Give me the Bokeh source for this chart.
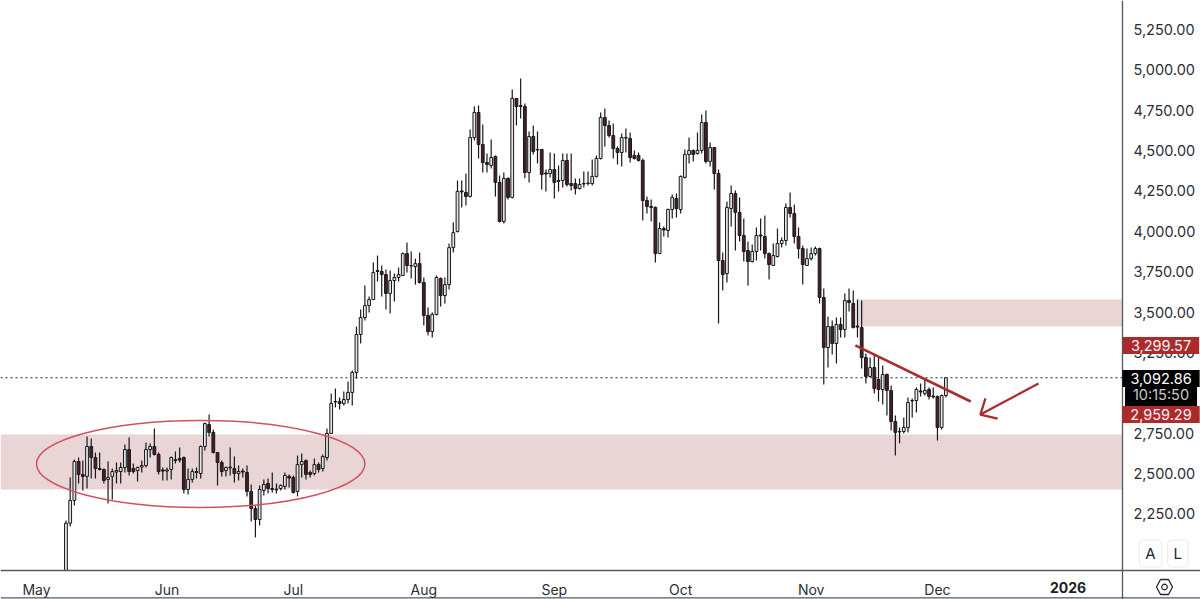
import numpy as np
from bokeh.embed import file_html
from bokeh.models import (ColumnDataSource, FixedTicker, Label, NumeralTickFormatter,
                          PolyAnnotation, Range1d)
from bokeh.plotting import figure
from bokeh.resources import INLINE

# ---- chart data (days counted from 1 May 2025, prices in USD) ----
first_day = 7
opens = [1810,2192,2333,2574,2494,2482,2667,2599,2531,2525,
 2463,2482,2509,2512,2537,2648,2531,2518,2540,2549,
 2648,2667,2618,2522,2515,2525,2580,2593,2599,2401,
 2463,2512,2500,2667,2803,2754,2630,2568,2518,2534,
 2531,2500,2515,2506,2389,2283,2215,2395,2438,2407,
 2403,2407,2420,2482,2475,2389,2555,2580,2506,2500,
 2555,2531,2599,2748,2943,2946,2933,2958,3002,3126,
 3361,3466,3540,3577,3757,3751,3732,3615,3695,3714,
 3726,3862,3785,3782,3800,3683,3479,3379,3485,3708,
 3602,3670,3899,3999,4250,4241,4216,4581,4736,4538,
 4426,4408,4464,4303,4061,4328,4210,4823,4779,4773,
 4364,4587,4504,4507,4361,4358,4383,4315,4315,4439,
 4296,4296,4265,4293,4296,4296,4340,4451,4705,4655,
 4593,4513,4488,4578,4575,4470,4470,4439,4191,4154,
 4148,3862,4017,4005,4135,4203,4135,4334,4476,4501,
 4482,4501,4674,4433,4519,4358,3819,3738,4141,4234,
 4117,3974,3881,3813,3875,3977,3968,3862,3788,3844,
 3924,3943,4148,4110,3968,3893,3788,3831,3862,3893,
 3590,3280,3410,3305,3423,3392,3571,3553,3413,3404,
 3218,3101,3156,3082,3020,3113,3014,2822,2757,2760,
 2785,2952,2952,3011,2995,3020,2980,2977,2785,2983]
closes = [2192,2333,2574,2494,2482,2667,2599,2531,2525,2457,
 2475,2512,2518,2537,2648,2512,2512,2537,2549,2648,
 2667,2618,2512,2515,2522,2599,2586,2583,2401,2463,
 2512,2506,2667,2809,2754,2630,2568,2512,2537,2540,
 2500,2512,2509,2389,2283,2215,2401,2432,2407,2401,
 2398,2426,2488,2472,2382,2555,2574,2494,2494,2555,
 2525,2605,2748,2933,2946,2933,2958,3002,3126,3361,
 3466,3540,3577,3745,3751,3732,3615,3695,3714,3732,
 3862,3788,3788,3800,3683,3479,3379,3485,3714,3602,
 3670,3899,3992,4247,4244,4216,4581,4736,4538,4426,
 4414,4457,4303,4061,4328,4210,4823,4773,4773,4364,
 4587,4494,4507,4352,4355,4383,4303,4309,4439,4290,
 4284,4265,4290,4296,4299,4340,4451,4705,4655,4593,
 4513,4488,4581,4581,4457,4451,4439,4191,4154,4148,
 3862,4017,4008,4135,4210,4141,4340,4476,4501,4476,
 4501,4674,4433,4519,4358,3819,3732,4148,4234,4117,
 3974,3875,3813,3875,3974,3971,3862,3794,3850,3924,
 3943,4148,4110,3968,3893,3794,3831,3862,3893,3590,
 3280,3410,3305,3423,3392,3571,3559,3404,3407,3218,
 3101,3156,3026,3020,3113,3014,2822,2754,2760,2785,
 2940,2949,3020,3005,3014,2977,2974,2785,2983,3093]
highs = [2209,2475,2587,2599,2580,2729,2717,2630,2630,2531,
 2574,2531,2568,2568,2679,2723,2562,2543,2580,2692,
 2686,2779,2630,2537,2537,2605,2636,2661,2605,2531,
 2531,2537,2673,2815,2865,2772,2630,2580,2543,2661,
 2605,2549,2531,2549,2432,2302,2426,2463,2469,2506,
 2438,2432,2506,2494,2488,2611,2624,2586,2518,2593,
 2568,2618,2779,2995,3026,2971,3008,3070,3138,3410,
 3516,3664,3596,3807,3850,3788,3763,3757,3738,3775,
 3868,3930,3875,3831,3868,3714,3528,3497,3726,3714,
 3714,3924,4054,4315,4315,4358,4631,4773,4779,4662,
 4482,4569,4470,4346,4364,4334,4878,4823,4946,4792,
 4618,4655,4618,4507,4383,4488,4482,4407,4482,4482,
 4482,4327,4327,4370,4370,4445,4470,4736,4761,4686,
 4668,4525,4606,4637,4612,4501,4488,4451,4216,4197,
 4154,4054,4030,4141,4228,4234,4346,4507,4581,4507,
 4612,4724,4748,4550,4519,4383,3868,4185,4284,4253,
 4209,4080,3937,3918,4024,4080,4098,3868,3924,4017,
 3962,4172,4241,4166,4024,3912,3893,3899,3906,3899,
 3646,3472,3448,3466,3466,3615,3646,3633,3577,3571,
 3243,3218,3237,3218,3169,3119,3045,2859,2785,2847,
 2971,2965,3033,3057,3088,3033,3033,2983,2989,3093]
lows = [1800,2172,2302,2438,2395,2407,2469,2469,2518,2438,
 2314,2339,2438,2438,2506,2488,2500,2450,2506,2537,
 2599,2611,2494,2457,2457,2463,2562,2568,2376,2370,
 2444,2469,2469,2642,2729,2624,2426,2482,2482,2488,
 2444,2457,2475,2358,2203,2104,2178,2364,2376,2382,
 2376,2395,2401,2413,2376,2358,2475,2463,2475,2488,
 2506,2512,2580,2748,2909,2896,2921,2933,2921,3088,
 3305,3448,3497,3577,3689,3596,3516,3491,3565,3689,
 3726,3745,3708,3670,3677,3417,3355,3342,3479,3534,
 3553,3639,3869,3992,4147,4160,4210,4563,4451,4364,
 4364,4389,4216,4055,4049,4197,4203,4655,4699,4328,
 4303,4476,4420,4259,4247,4334,4203,4247,4272,4278,
 4253,4228,4259,4272,4284,4284,4334,4445,4525,4581,
 4451,4414,4402,4488,4426,4445,4433,4067,4110,4061,
 3807,3862,3968,3962,4080,4086,4110,4327,4420,4433,
 4476,4482,4420,4402,4259,3429,3633,3683,4030,3881,
 3937,3813,3664,3807,3819,3881,3831,3701,3788,3838,
 3899,3912,4086,3924,3831,3670,3788,3819,3850,3553,
 3051,3157,3237,3181,3342,3342,3503,3398,3342,3150,
 3058,3095,2996,2946,2927,2859,2766,2611,2686,2748,
 2754,2847,2878,2977,2983,2958,2965,2704,2773,2971]

y_ticks = [2250,2500,2750,3000,3250,3500,3750,4000,4250,4500,4750,5000,5250]
month_days = [0,31,61,92,123,153,184,214]
month_labels = ["May","Jun","Jul","Aug","Sep","Oct","Nov","Dec"]
year_day = 245
year_label = "2026"

last_price = 3092.86
countdown = "10:15:50"
upper_tag = 3299.57
lower_tag = 2959.29

low_zone = (2401, 2742)
high_zone = (3411, 3578)
high_zone_start = 195
ellipse_center = (39, 2559)
ellipse_size = (78, 539)
trend_days = [194.5, 221.9]
trend_prices = [3293, 2946]
arrow_days = [238.0, 224.2]
arrow_prices = [3057, 2865]
head_days = [225.4, 224.2, 228.3]
head_prices = [2965, 2865, 2840]

# ---- colours ----
INK = "#16181d"
AXIS = "#55585e"
MAROON = "#4b1d26"
UP = "#e4e4e4"
ZONE = "#e9d5d5"
RED = "#a92c2e"
ELLIPSE = "#d3505f"
TAG = "#ab2b2d"

# full-canvas view; the scale sits at SCALE_DAY and the time axis at AXIS_PRICE
X0, X1 = -8.55, 276.48
Y0, Y1 = 1719.4, 5429.6
SCALE_DAY = 257.96
AXIS_PRICE = 1899
FOOT_PRICE = 1730

p = figure(width=1200, height=599, output_backend="svg", toolbar_location=None,
           y_axis_location="right", x_range=Range1d(X0, X1), y_range=Range1d(Y0, Y1),
           min_border=0, background_fill_color="white", border_fill_color="white",
           outline_line_color=None)
p.grid.visible = False

# zones
p.quad(left=X0, right=SCALE_DAY, bottom=low_zone[0], top=low_zone[1], fill_color=ZONE, line_color=None)
p.quad(left=high_zone_start, right=SCALE_DAY, bottom=high_zone[0], top=high_zone[1], fill_color=ZONE, line_color=None)

# last-price line
p.line([X0, SCALE_DAY], [last_price, last_price], line_color="#222222", line_width=1, line_dash=[2, 3])

# candles
days = np.arange(len(opens)) + first_day
o, h, l, c = map(np.array, (opens, highs, lows, closes))
src = ColumnDataSource(dict(x=days, o=o, h=h, l=l, c=c,
                            top=np.maximum(o, c), bottom=np.minimum(o, c),
                            fill=[(UP if cc >= oo else MAROON) for oo, cc in zip(o, c)]))
p.segment(x0="x", x1="x", y0="l", y1="h", source=src, line_color=INK, line_width=1.2)
p.vbar(x="x", top="top", bottom="bottom", width=0.66, source=src,
       fill_color="fill", line_color=INK, line_width=1)

# time-axis strip hides whatever falls below the axis
p.quad(left=X0, right=X1, bottom=Y0, top=AXIS_PRICE, fill_color="white", line_color=None)
p.line([X0, X1], [FOOT_PRICE, FOOT_PRICE], line_color=AXIS, line_width=1.3)

# annotations
p.ellipse(x=ellipse_center[0], y=ellipse_center[1], width=ellipse_size[0], height=ellipse_size[1],
          fill_color=None, line_color=ELLIPSE, line_width=1.5)
p.line(trend_days, trend_prices, line_color=RED, line_width=2.6)
p.line(arrow_days, arrow_prices, line_color=RED, line_width=2.3)
p.line(head_days, head_prices, line_color=RED, line_width=2.3)

# axes
yax = p.yaxis[0]
yax.fixed_location = SCALE_DAY
yax.ticker = FixedTicker(ticks=y_ticks)
yax.formatter = NumeralTickFormatter(format="0,0.00")
yax.major_label_text_font = "Inter"
yax.major_label_text_font_size = "14.5px"
yax.major_label_text_color = "#2b2e35"
yax.major_label_standoff = 11
yax.major_tick_out = 0
yax.major_tick_in = 0
yax.minor_tick_out = 0
yax.minor_tick_in = 0
yax.major_tick_line_color = None
yax.minor_tick_line_color = None
yax.axis_line_color = AXIS
yax.axis_line_width = 1.3

xax = p.xaxis[0]
xax.fixed_location = AXIS_PRICE
xax.ticker = FixedTicker(ticks=month_days + [year_day])
xax.major_label_overrides = {**dict(zip(month_days, month_labels)), year_day: " "}
xax.major_label_text_font = "Inter"
xax.major_label_text_font_size = "14px"
xax.major_label_text_color = "#2b2e35"
xax.major_label_standoff = 10
xax.major_tick_out = 0
xax.major_tick_in = 0
xax.minor_tick_out = 0
xax.minor_tick_in = 0
xax.major_tick_line_color = None
xax.minor_tick_line_color = None
xax.axis_line_color = AXIS
xax.axis_line_width = 1.3

p.add_layout(Label(x=year_day, y=1794, text=year_label, text_align="center", text_baseline="middle",
                   text_font="Inter", text_font_size="14px", text_font_style="bold", text_color="#1c1e24"))

# price tags on the scale
TAG_X = 267.1
def tag(y, text, bg, color):
    p.add_layout(Label(x=TAG_X, y=y, text=text, text_align="center", text_baseline="middle",
                       text_font="Inter", text_font_size="14.5px", text_color=color,
                       background_fill_color=bg, padding=(8, 3)))
tag(3293, f"{upper_tag:,.2f}", TAG, "#fbeeee")
tag(2989, countdown, "#000000", "#c9c9c9")
tag(3088, f"{last_price:,.2f}", "#000000", "#ffffff")
tag(2865, f"{lower_tag:,.2f}", TAG, "#fbeeee")

# A / L buttons
for xd, t in ((264.6, "A"), (271.1, "L")):
    p.add_layout(Label(x=xd, y=2004, text=t, text_align="center", text_baseline="middle",
                       text_font="Inter", text_font_size="15px", text_color="#24262c",
                       background_fill_color="#ffffff", border_line_color="#ececec",
                       border_radius=4, padding=(6, 4)))

# settings icon
p.add_layout(PolyAnnotation(xs=[1156, 1160, 1168, 1172, 1168, 1160], ys=[586.5, 579, 579, 586.5, 594, 594],
                            xs_units="canvas", ys_units="canvas",
                            line_color="#24262c", line_alpha=1, line_width=1.3, fill_color=None))
ang = np.linspace(0, 2*np.pi, 13)[:-1]
p.add_layout(PolyAnnotation(xs=list(1164 + 2.8*np.cos(ang)), ys=list(586.5 + 2.8*np.sin(ang)),
                            xs_units="canvas", ys_units="canvas",
                            line_color="#24262c", line_alpha=1, line_width=1.2, fill_color=None))

open("out.html", "w").write(file_html(p, INLINE))
